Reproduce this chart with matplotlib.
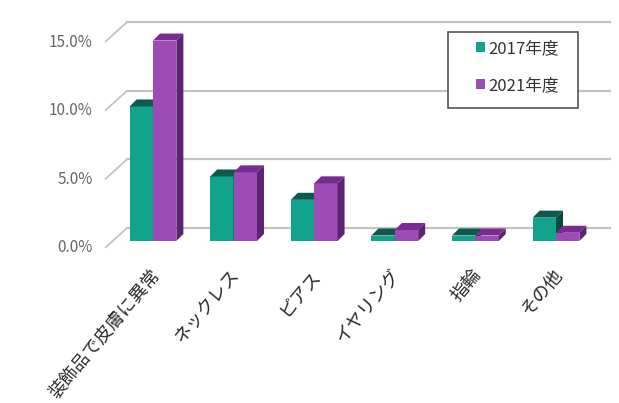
import matplotlib
matplotlib.use('Agg')
import matplotlib.pyplot as plt
from matplotlib.patches import Patch, Rectangle

plt.rcParams['font.family'] = ['Noto Sans CJK JP', 'DejaVu Sans']

categories = ['装飾品で皮膚に異常', 'ネックレス', 'ピアス', 'イヤリング', '指輪', 'その他']
series_names = ['2017年度', '2021年度']
values_2017 = [9.8, 4.7, 3.0, 0.4, 0.4, 1.7]
values_2021 = [14.6, 5.0, 4.2, 0.8, 0.4, 0.6]
y_ticks = [0, 5, 10, 15]
y_tick_labels = ['0.0%', '5.0%', '10.0%', '15.0%']

W, H = 619, 403
fig = plt.figure(figsize=(W / 100, H / 100), dpi=100)
fig.patch.set_facecolor('white')
ax = fig.add_axes([105 / W, (H - 260) / H, 505 / W, 250 / H])
px_cat = 80.6
px_pct = 13.73
ax.set_xlim((105 - 153) / px_cat, (610 - 153) / px_cat)
ax.set_ylim((241 - 260) / px_pct, (241 - 10) / px_pct)
ax.axis('off')

x_left, x_right = ax.get_xlim()
dx = 7 / px_cat
dy = 7 / px_pct
wall_dx = 22 / px_cat
wall_dy = 13 / px_pct
label_off = 7 / px_pct
grid_color = '#c9c1bd'

for t, lab in zip(y_ticks, y_tick_labels):
    yf = t - label_off
    ax.plot([x_left, x_left + wall_dx], [yf, t + wall_dy], color=grid_color, lw=1.3,
            clip_on=False, zorder=1, solid_capstyle='butt')
    ax.plot([x_left + wall_dx, x_right], [t + wall_dy, t + wall_dy], color=grid_color,
            lw=1.6, clip_on=False, zorder=1)
    ax.text(x_left - 12 / px_cat, yf, lab, ha='right', va='center', fontsize=11,
            color='#666666')

w = 0.29
styles = [
    dict(front='#12a38c', top='#0b5a4b', side='#084a3e'),
    dict(front='#9c4cb4', top='#7a2a93', side='#5b2470'),
]
xs = list(range(len(categories)))
for k, (vals, st) in enumerate(zip([values_2017, values_2021], styles)):
    x0s = [x - w + k * w for x in xs]
    z = 3 + k
    ax.bar(x0s, vals, width=w, align='edge', color=st['front'], zorder=z, linewidth=0)
    for x0, h in zip(x0s, vals):
        x1 = x0 + w
        ax.fill([x0, x1, x1 + dx, x0 + dx], [h, h, h + dy, h + dy], color=st['top'],
                zorder=z, linewidth=0)
        ax.fill([x1, x1, x1 + dx, x1 + dx], [0, h, h + dy, dy], color=st['side'],
                zorder=z, linewidth=0)

for x, cat in zip(xs, categories):
    ax.text(x - 0.05, (241 - 266) / px_pct, cat, rotation=50, ha='right', va='top',
            rotation_mode='anchor', fontsize=13, color='#2a2a2a')

fig.add_artist(Rectangle((448 / W, 1 - 108 / H), 130 / W, 76 / H, transform=fig.transFigure,
                         facecolor='white', edgecolor='#555555', lw=1.2, zorder=2))
handles = [Patch(facecolor=s['front'], edgecolor='none') for s in styles]
fig.legend(handles, series_names, loc='upper left', bbox_to_anchor=(476 / W, 1 - 40 / H),
           bbox_transform=fig.transFigure, frameon=False, fontsize=12,
           handlelength=0.55, handleheight=0.55, handletextpad=0.2, labelspacing=1.2,
           borderpad=0, borderaxespad=0, labelcolor='#333333')

fig.savefig('out.png', dpi=100, facecolor='white')
